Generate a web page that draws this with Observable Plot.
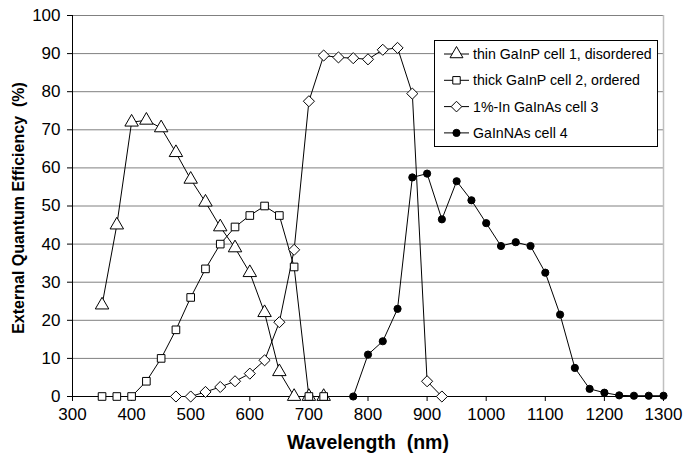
<!DOCTYPE html>
<html><head><meta charset="utf-8">
<script src="https://cdn.jsdelivr.net/npm/d3@7"></script>
<script src="https://cdn.jsdelivr.net/npm/@observablehq/plot@0.6"></script>
<style>
body{margin:0;background:#fff;}
#wrap{position:relative;width:683px;height:455px;font-family:Arial,"Liberation Sans",sans-serif;}
#legend{position:absolute;left:0;top:0;pointer-events:none;}
</style></head><body><div id="wrap"></div>
<script>
// Series names
const seriesNames = ["thin GaInP cell 1, disordered", "thick GaInP cell 2, ordered", "1%-In GaInAs cell 3", "GaInNAs cell 4"];
const symbols = ["triangle", "square", "diamond2", "circle"];

// Cell 1: thin GaInP, disordered
const cell1Wl  = [350,375,400,425,450,475,500,525,550,575,600,625,650,675,700,725];
const cell1Eqe = [24,45,72,72.5,70.5,64,57,51,44.5,39,32.5,22,6.5,0,0,0];

// Cell 2: thick GaInP, ordered
const cell2Wl  = [350,375,400,425,450,475,500,525,550,575,600,625,650,675,700,725];
const cell2Eqe = [0,0,0,4,10,17.5,26,33.5,40,44.5,47.5,50,47.5,34,0,0];

// Cell 3: 1%-In GaInAs
const cell3Wl  = [475,500,525,550,575,600,625,650,675,700,725,750,775,800,825,850,875,900,925];
const cell3Eqe = [0,0,1.2,2.5,4,6,9.5,19.5,38.5,77.5,89.5,89,88.8,88.5,91,91.5,79.5,4,0];

// Cell 4: GaInNAs
const cell4Wl  = [775,800,825,850,875,900,925,950,975,1000,1025,1050,1075,1100,1125,1150,1175,1200,1225,1250,1275,1300];
const cell4Eqe = [0,11,14.5,23,57.5,58.5,46.5,56.5,51.5,45.5,39.5,40.5,39.5,32.5,21.5,7.5,2,1,0.3,0.2,0.2,0.2];

// Axis ticks
const xTicks = [300,400,500,600,700,800,900,1000,1100,1200,1300];
const yTicks = [0,10,20,30,40,50,60,70,80,90,100];
const xLabel = "Wavelength\u00a0 (nm)";
const yLabel = "External Quantum Efficiency\u00a0 (%)";

const wls = [cell1Wl, cell2Wl, cell3Wl, cell4Wl];
const eqes = [cell1Eqe, cell2Eqe, cell3Eqe, cell4Eqe];
const series = seriesNames.map((name, k) => ({
  name, symbol: symbols[k],
  rows: wls[k].map((w, i) => ({wl: w, eqe: eqes[k][i]}))
}));

const marks = [
  Plot.ruleY(yTicks.filter(d => d > 0), {y: d => d, stroke: "#808080", strokeWidth: 1}),
  Plot.ruleX([1300], {x: d => d, stroke: "#c0c0c0", strokeWidth: 1.5}),
  Plot.axisX({ticks: xTicks, tickSize: 5, tickPadding: 6, label: null, tickFormat: d => String(d), fill: "#000", fontSize: 17}),
  Plot.axisY({ticks: yTicks, tickSize: 5, tickPadding: 7, label: null, tickFormat: d => String(d), fill: "#000", fontSize: 17}),
  Plot.ruleX([300], {x: d => d, stroke: "#000"}),
  Plot.ruleY([0], {y: d => d, stroke: "#000"}),
];
series.forEach(s => {
  marks.push(Plot.line(s.rows, {x: "wl", y: "eqe", stroke: "#000", strokeWidth: 1}));
});
series.forEach(s => {
  const filled = s.symbol === "circle";
  marks.push(Plot.dot(s.rows, {
    x: "wl", y: "eqe", symbol: () => s.symbol,
    r: filled ? 3.6 : (s.symbol === "square" ? 4.3 : 5),
    fill: filled ? "#000" : "#fff", stroke: "#000", strokeWidth: 1
  }));
});
marks.push(Plot.text([xLabel], {frameAnchor: "bottom", dy: 52, fontWeight: "bold", fontSize: 19.5, fill: "#000"}));
marks.push(Plot.text([yLabel], {frameAnchor: "left", textAnchor: "middle", dx: -54, dy: 2, rotate: -90, fontWeight: "bold", fontSize: 16, fill: "#000"}));

const chart = Plot.plot({
  width: 683, height: 455,
  marginLeft: 72, marginRight: 20, marginTop: 15, marginBottom: 59,
  x: {domain: [300, 1300]},
  y: {domain: [0, 100]},
  symbol: {type: "identity"},
  style: {fontFamily: "Arial, 'Liberation Sans', sans-serif", fontSize: "16px", color: "#000", background: "#fff"},
  marks
});
document.getElementById("wrap").appendChild(chart);

// Legend (overlay SVG)
const lg = d3.select("#wrap").append("svg").attr("id", "legend").attr("width", 683).attr("height", 455);
const bx = 434, by = 40, bw = 223, bh = 106;
lg.append("rect").attr("x", bx + 0.5).attr("y", by + 0.5).attr("width", bw).attr("height", bh)
  .attr("fill", "#fff").attr("stroke", "#000").attr("stroke-width", 1);
series.forEach((s, k) => {
  const cy = by + 14 + k * 26.3;
  lg.append("line").attr("x1", bx + 10).attr("x2", bx + 35).attr("y1", cy).attr("y2", cy).attr("stroke", "#000");
  const filled = s.symbol === "circle";
  const sym = {triangle: d3.symbolTriangle, square: d3.symbolSquare, diamond2: d3.symbolDiamond2, circle: d3.symbolCircle}[s.symbol];
  const r = filled ? 3.6 : (s.symbol === "square" ? 4.2 : 4.8);
  lg.append("path").attr("d", d3.symbol(sym, Math.PI * r * r)()).attr("transform", `translate(${bx + 22.5},${cy})`)
    .attr("fill", filled ? "#000" : "#fff").attr("stroke", "#000");
  lg.append("text").attr("x", bx + 39).attr("y", cy).attr("dy", "0.35em")
    .attr("font-size", 14.2).attr("font-family", "Arial, 'Liberation Sans', sans-serif").text(s.name);
});
</script></body></html>
